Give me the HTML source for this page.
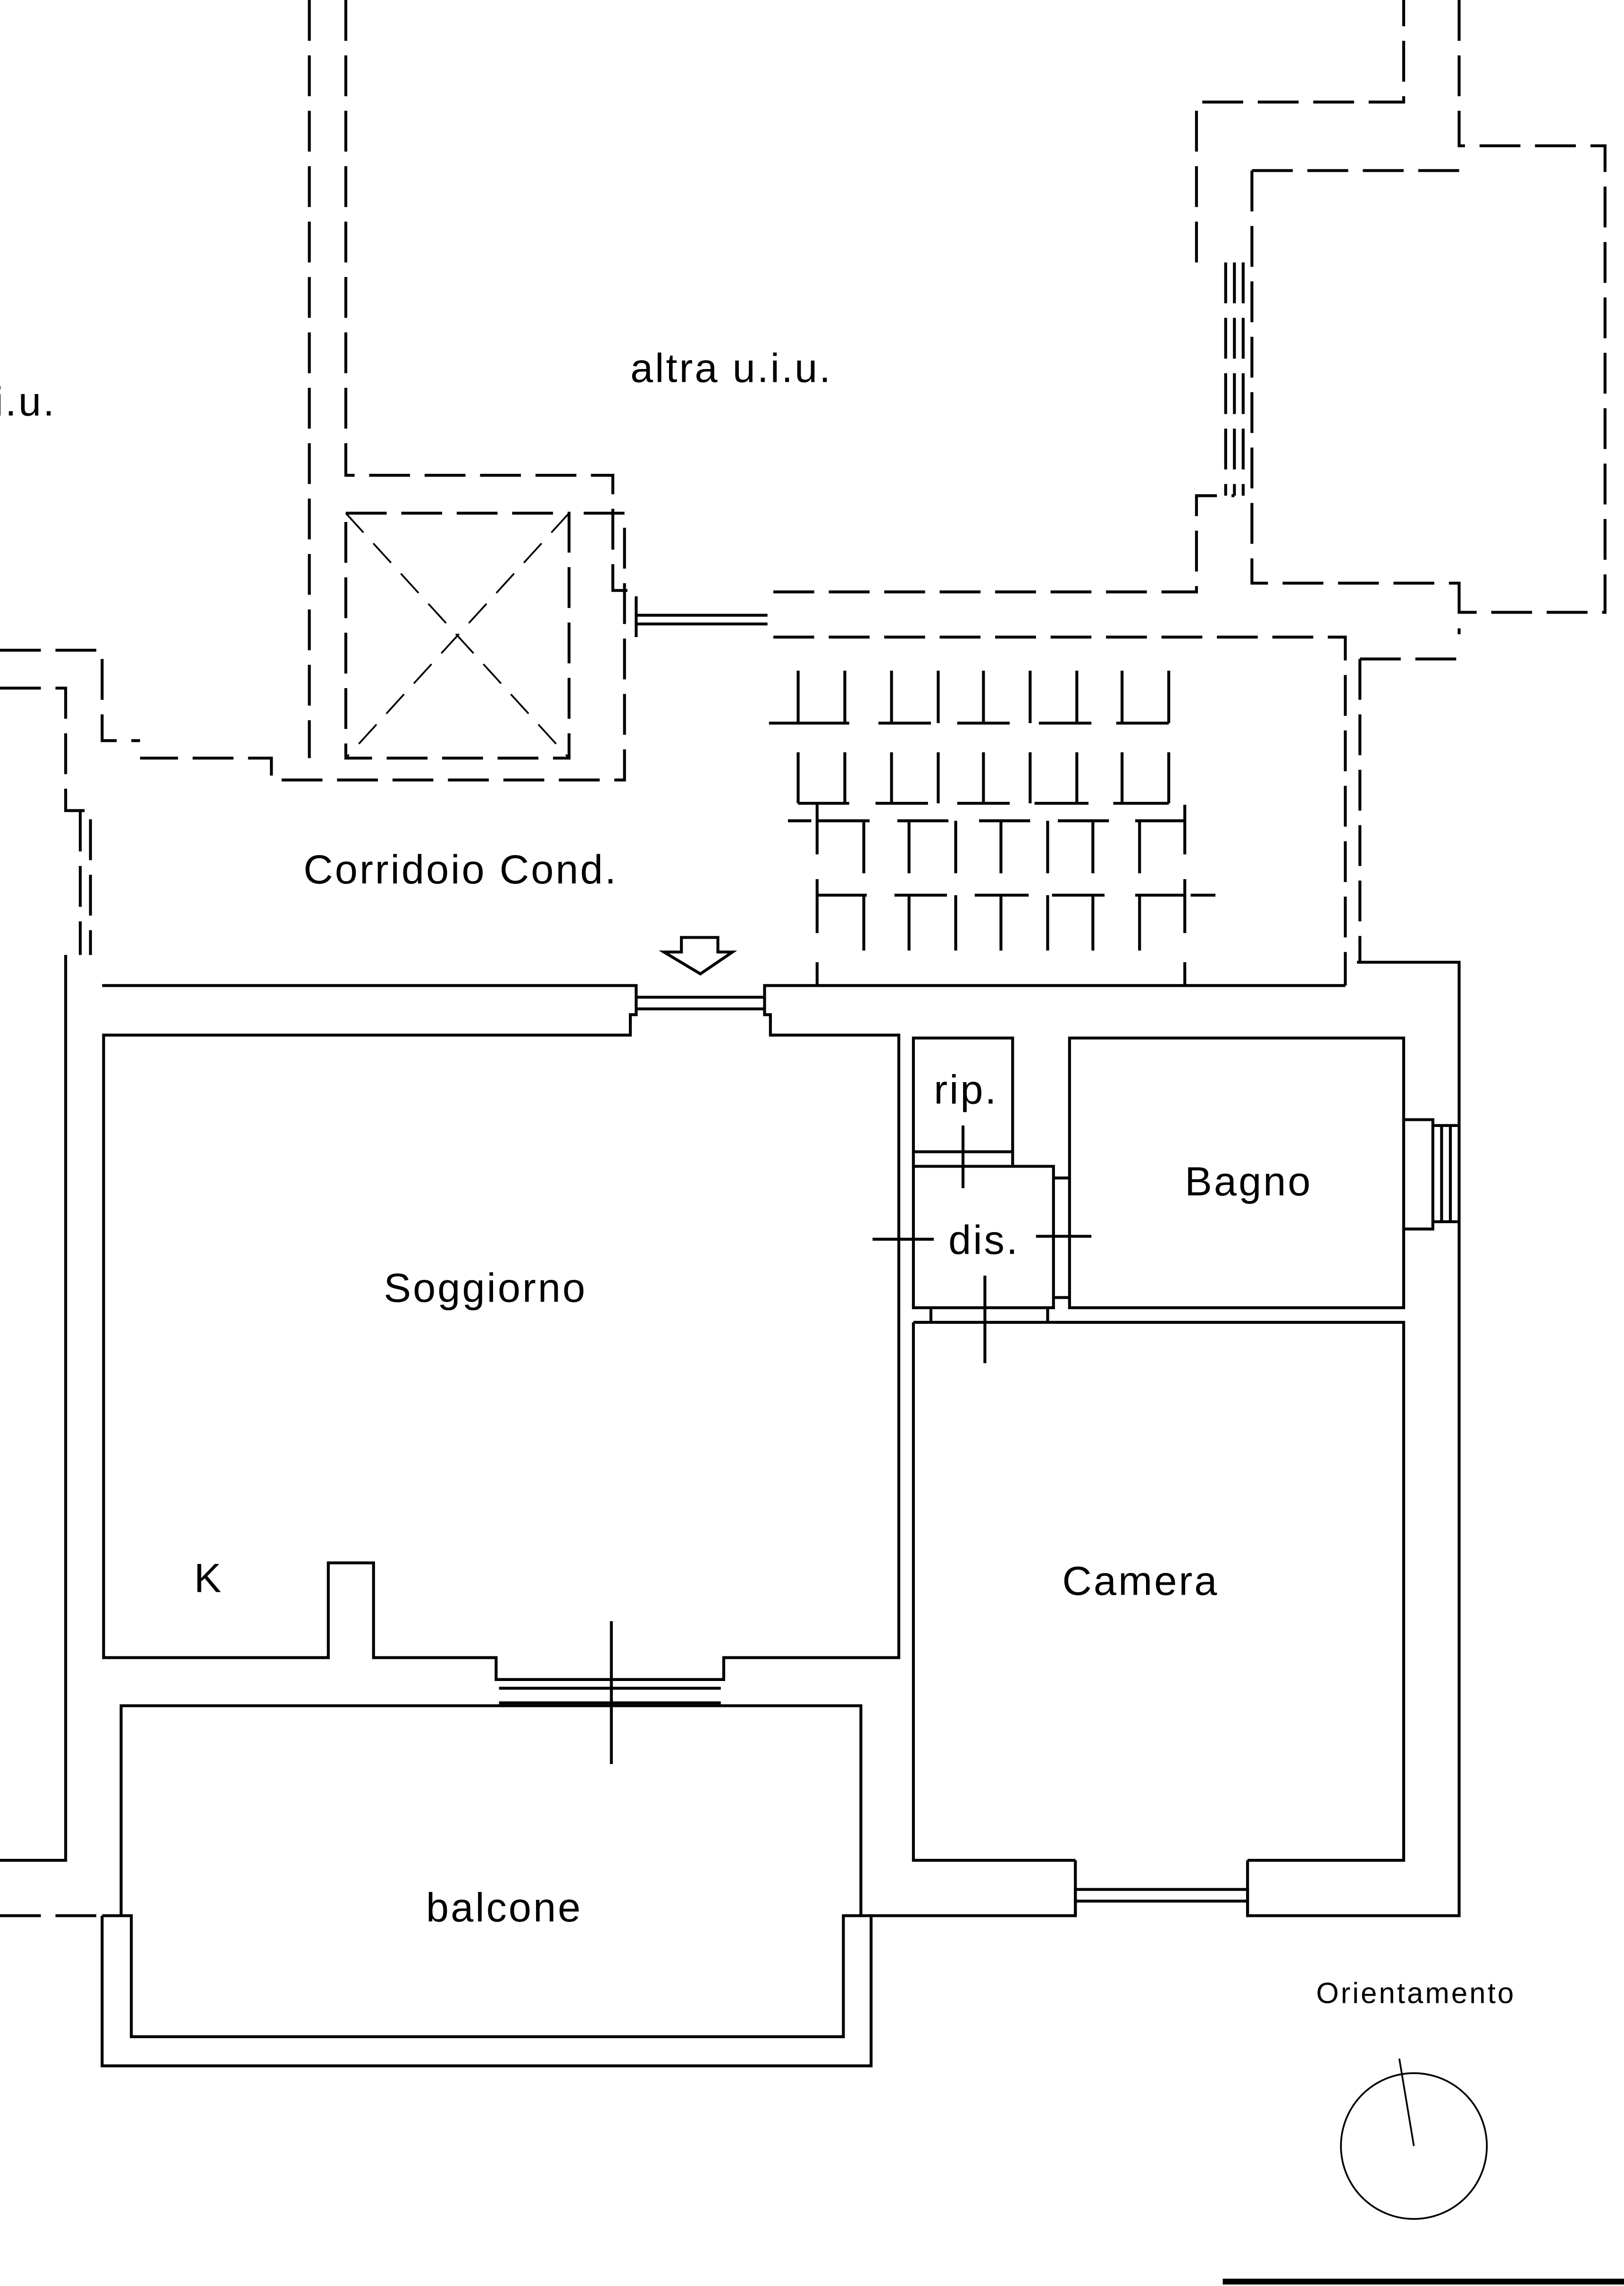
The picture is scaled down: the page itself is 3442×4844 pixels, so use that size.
<!DOCTYPE html>
<html><head><meta charset="utf-8"><style>
html,body{margin:0;padding:0;background:#fff;}
svg{display:block}
text{font-family:"Liberation Sans",sans-serif;fill:#000}
</style></head><body>
<svg width="3442" height="4844" viewBox="0 0 1113 1568" preserveAspectRatio="none" xmlns="http://www.w3.org/2000/svg">
<rect width="1113" height="1568" fill="#fff"/>
<g fill="none" stroke="#000" stroke-width="2" stroke-dasharray="28 10">
<path d="M212 0V520 M237 0V326H420V405H436V437"/>
<path d="M237 352H390V520H237Z"/>
<path d="M400 352H428V535H186V520H96"/>
<path d="M530 406H820V340H846 M820 180V70H962V0 M1000 0V100H1100V420H1000 M858 117H1000 M858 117V400H1000V435"/>
<path d="M840 180V340 M846 180V340 M852 180V340"/>
<path d="M530 437H922V676 M932 452V660 M932 452H1000"/>
<path d="M0 446H70V508H96 M0 472H45V556H62V655 M55 556V655"/>
<path d="M0 1314H70"/>
</g>
<g fill="none" stroke="#000" stroke-width="1.2" stroke-dasharray="18 10">
<path d="M237 352L390 520 M390 352L237 520"/>
</g>
<g fill="none" stroke="#000" stroke-width="2">
<path d="M436 422H526 M436 428H526"/>
<path d="M45 655V1276H0"/>
<path d="M70 676H436V696H432V710H71V1137H225V1072H256V1137H340V1152H496V1137H616V710H528V696H524V676H922 M436 684H524 M436 692H524"/>
<path d="M930 660H1000V1314H855V1296H737V1314H596"/>
<path d="M342 1158H494 M342 1168H494"/>
<path d="M419 1112V1210"/>
<path d="M83 1314V1170H590V1314"/>
<path d="M70 1314V1417H597V1314 M70 1314H90V1397H578V1314H597"/>
<path d="M626 712H694V790H626Z M626 800H722V897H626Z M733 712H962V897H733Z"/>
<path d="M626 790V800 M694 790V800 M722 808H733 M722 890H733 M638 897V907 M718 897V907"/>
<path d="M962 768H982V843H962 M982 772H1000 M982 838H1000 M988 772V838 M994 772V838"/>
<path d="M626 907H962V1276H855 M737 1276H626V907 M737 1276V1314 M855 1276V1314 M737 1304H855"/>
<path d="M660 772V815 M598 850H640 M710 848H748 M675 875V935"/>
<path d="M547 460V496 M579 460V496 M611 460V496 M643 460V496 M674 460V496 M706 460V496 M738 460V496 M769 460V496 M801 460V496"/>
<path d="M527 496H582 M602 496H638 M656 496H692 M712 496H748 M765 496H801"/>
<path d="M547 516V551 M579 516V551 M611 516V551 M643 516V551 M674 516V551 M706 516V551 M738 516V551 M769 516V551 M801 516V551"/>
<path d="M547 551H582 M600 551H636 M656 551H692 M709 551H746 M763 551H801"/>
<path d="M540 563H556 M560 563H596 M615 563H650 M671 563H706 M725 563H760 M778 563H812"/>
<path d="M560 552V586 M812 552V586 M592 563V599 M623 563V599 M655 563V599 M686 563V599 M718 563V599 M749 563V599 M781 563V599"/>
<path d="M560 614H594 M613 614H649 M668 614H705 M721 614H757 M778 614H812 M816 614H833"/>
<path d="M560 603V640 M812 603V640 M592 614V652 M623 614V652 M655 614V652 M686 614V652 M718 614V652 M749 614V652 M781 614V652"/>
<path d="M560 660V676 M812 660V676"/>
<path d="M467 653V643H492V653H502L480 668L455 653Z"/>
</g>
<g font-size="28" letter-spacing="1.3">
<text x="432" y="262">altra u.i.u.</text>
<text x="-4" y="285">i.u.</text>
<text x="208" y="606">Corridoio Cond.</text>
<text x="263" y="893">Soggiorno</text>
<text x="640" y="757">rip.</text>
<text x="650" y="860">dis.</text>
<text x="812" y="820">Bagno</text>
<text x="728" y="1094">Camera</text>
<text x="133" y="1092">K</text>
<text x="292" y="1318">balcone</text>
</g>
<text x="902" y="1374" font-size="20" letter-spacing="1.3">Orientamento</text>
<circle cx="969" cy="1472" r="50" fill="none" stroke="#000" stroke-width="1.2"/>
<path d="M959 1412L969 1472" stroke="#000" stroke-width="1.2"/>
<path d="M838 1565H1113" stroke="#000" stroke-width="4"/>
</svg>
</body></html>
